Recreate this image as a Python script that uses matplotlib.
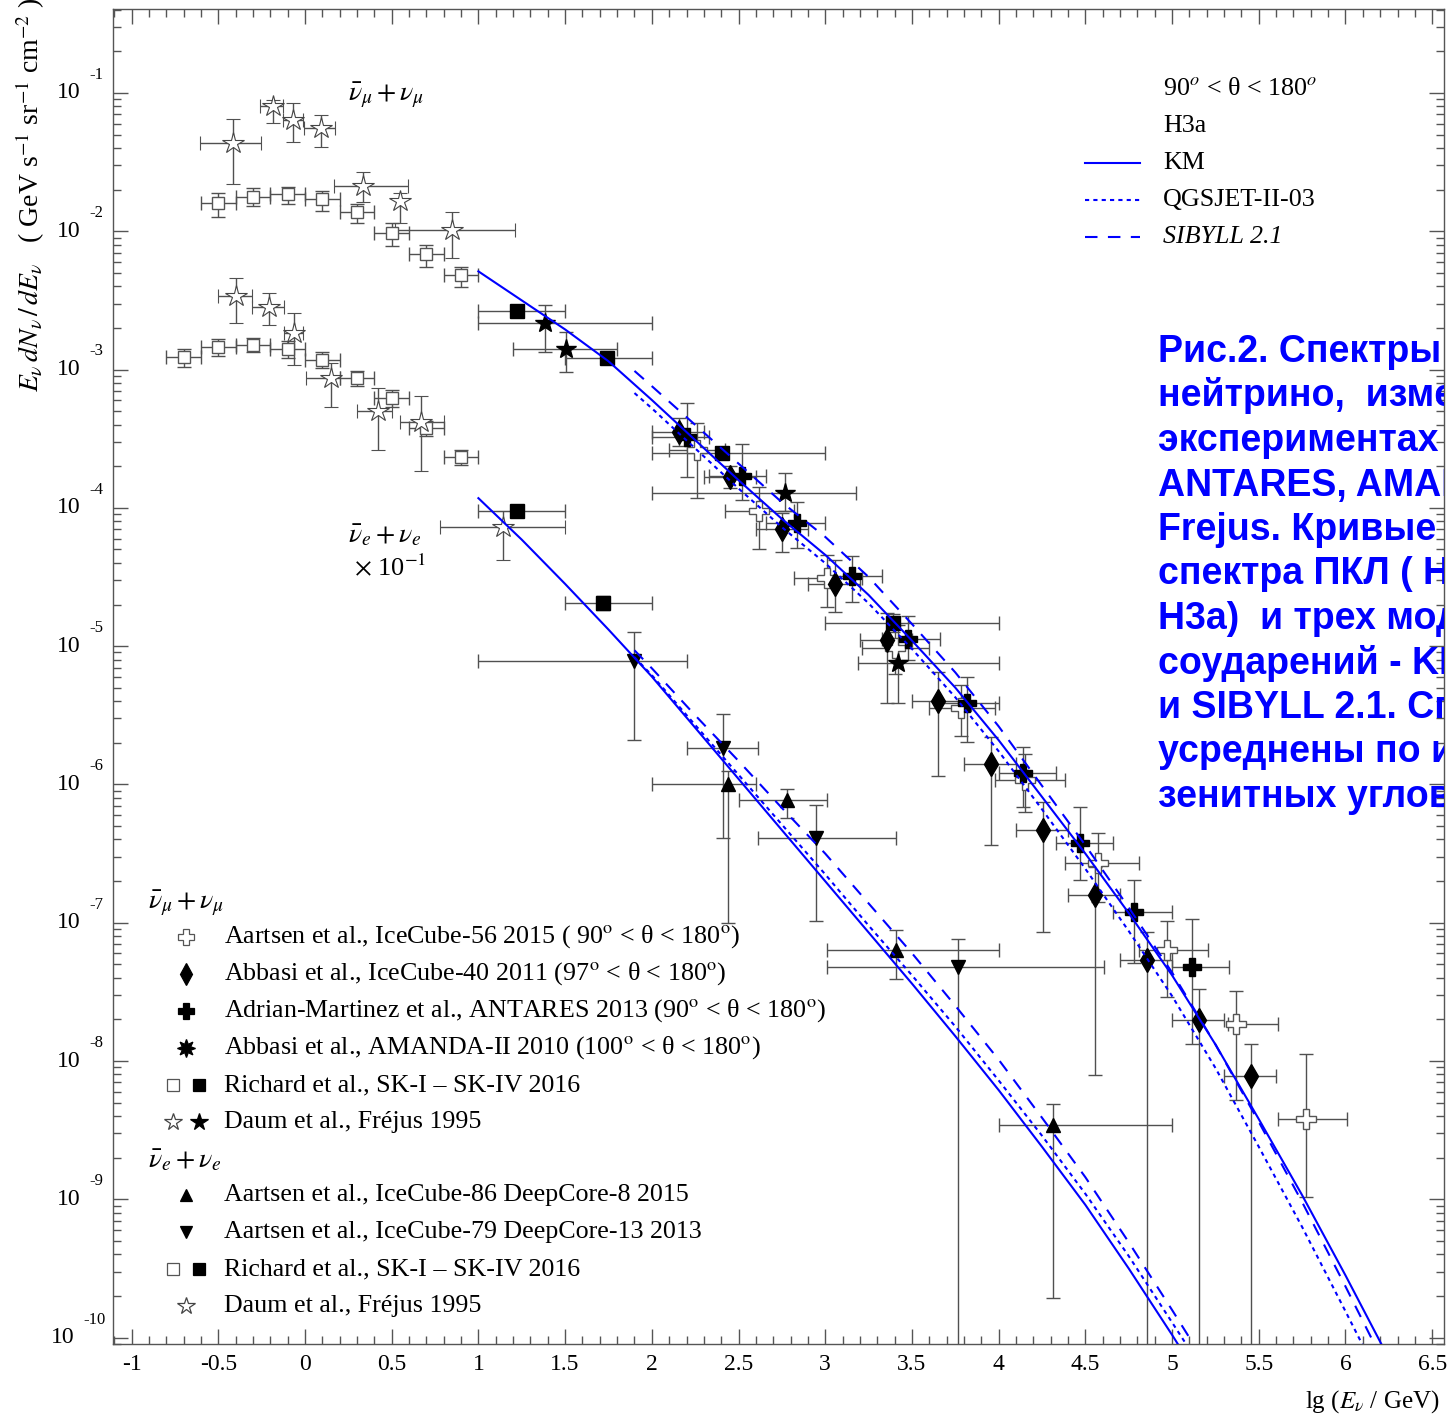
import matplotlib.pyplot as plt
import numpy as np
from matplotlib.ticker import MultipleLocator, LogLocator, NullFormatter, FixedLocator, FixedFormatter

plt.rcParams['font.family'] = 'Liberation Serif'
plt.rcParams['mathtext.fontset'] = 'stix'
plt.rcParams['axes.unicode_minus'] = False

# ---------------- data: x = lg(E/GeV), y = lg(flux) ----------------
# nu_mu + anti-nu_mu
frej_mu_open_x = [-0.415, -0.185, -0.069, 0.092, 0.336, 0.548, 0.849]
frej_mu_open_y = [-1.36, -1.094, -1.195, -1.255, -1.67, -1.78, -1.99]
frej_mu_open_xlo = [-0.606, -0.26, -0.127, -0.006, 0.167, 0.548, 0.52]
frej_mu_open_xhi = [-0.254, -0.127, -0.012, 0.173, 0.594, 0.548, 1.21]
frej_mu_open_ylo = [-1.66, -1.217, -1.354, -1.39, -1.79, -1.94, -2.19]
frej_mu_open_yhi = [-1.19, -1.05, -1.07, -1.16, -1.57, -1.72, -1.86]

sk_mu_open_x = [-0.5, -0.3, -0.1, 0.1, 0.3, 0.5, 0.7, 0.9]
sk_mu_open_y = [-1.795, -1.75, -1.73, -1.77, -1.86, -2.01, -2.165, -2.315]
sk_mu_open_xlo = [-0.6, -0.4, -0.2, 0.0, 0.2, 0.4, 0.6, 0.8]
sk_mu_open_xhi = [-0.4, -0.2, 0.0, 0.2, 0.4, 0.6, 0.8, 1.0]
sk_mu_open_ylo = [-1.90, -1.82, -1.80, -1.85, -1.94, -2.11, -2.26, -2.40]
sk_mu_open_yhi = [-1.72, -1.69, -1.68, -1.71, -1.80, -1.94, -2.10, -2.26]

sk_mu_fill_x = [1.22, 1.74, 2.405, 3.39]
sk_mu_fill_y = [-2.58, -2.92, -3.60, -4.83]
sk_mu_fill_xlo = [1.0, 1.5, 2.0, 3.0]
sk_mu_fill_xhi = [1.5, 2.0, 3.0, 4.0]
sk_mu_fill_ylo = [-2.62, -2.96, -3.65, -4.90]
sk_mu_fill_yhi = [-2.55, -2.88, -3.56, -4.77]

frej_mu_fill_x = [1.384, 1.505]
frej_mu_fill_y = [-2.663, -2.85]
frej_mu_fill_xlo = [1.0, 1.2]
frej_mu_fill_xhi = [2.0, 1.8]
frej_mu_fill_ylo = [-2.87, -3.02]
frej_mu_fill_yhi = [-2.53, -2.73]

ic40_x = [2.157, 2.45, 2.75, 3.057, 3.356, 3.65, 3.956, 4.256, 4.556, 4.856, 5.156, 5.455]
ic40_y = [-3.451, -3.78, -4.15, -4.55, -4.955, -5.40, -5.85, -6.33, -6.80, -7.27, -7.70, -8.11]
ic40_xlo = [2.0, 2.3, 2.6, 2.9, 3.2, 3.5, 3.8, 4.1, 4.4, 4.7, 5.0, 5.3]
ic40_xhi = [2.3, 2.6, 2.9, 3.2, 3.5, 3.8, 4.1, 4.4, 4.7, 5.0, 5.3, 5.6]
ic40_ylo = [-3.55, -3.86, -4.32, -4.75, -5.41, -5.94, -6.44, -7.07, -8.10, -11.0, -11.0, -11.0]
ic40_yhi = [-3.35, -3.70, -4.04, -4.38, -4.76, -5.19, -5.66, -6.13, -6.60, -7.07, -7.48, -7.88]

antares_x = [2.203, 2.52, 2.837, 3.155, 3.48, 3.82, 4.14, 4.47, 4.78, 5.115]
antares_y = [-3.487, -3.77, -4.11, -4.49, -4.95, -5.41, -5.92, -6.42, -6.92, -7.32]
antares_xlo = [2.0, 2.33, 2.66, 3.0, 3.33, 3.66, 4.0, 4.33, 4.66, 5.0]
antares_xhi = [2.33, 2.66, 3.0, 3.33, 3.66, 4.0, 4.33, 4.66, 5.0, 5.33]
antares_ylo = [-3.78, -3.94, -4.29, -4.68, -5.10, -5.69, -6.16, -6.69, -7.29, -7.88]
antares_yhi = [-3.24, -3.54, -3.96, -4.35, -4.78, -5.22, -5.73, -6.16, -6.69, -6.97]

amanda_x = [2.768, 3.42]
amanda_y = [-3.89, -5.12]
amanda_xlo = [2.0, 3.19]
amanda_xhi = [3.18, 4.0]
amanda_ylo = [-4.02, -5.41]
amanda_yhi = [-3.75, -4.85]

ic56_x = [2.26, 2.62, 3.01, 3.40, 3.78, 4.15, 4.57, 4.97, 5.37, 5.77]
ic56_y = [-3.58, -4.02, -4.51, -5.01, -5.45, -5.97, -6.57, -7.20, -7.73, -8.42]
ic56_xlo = [2.1, 2.42, 2.82, 3.21, 3.6, 3.98, 4.38, 4.81, 5.32, 5.61]
ic56_xhi = [2.42, 2.82, 3.21, 3.6, 3.98, 4.38, 4.81, 5.21, 5.61, 6.01]
ic56_ylo = [-3.93, -4.30, -4.72, -5.20, -5.65, -6.20, -6.85, -7.54, -8.28, -8.98]
ic56_yhi = [-3.39, -3.85, -4.34, -4.85, -5.28, -5.78, -6.35, -6.99, -7.49, -7.95]

# nu_e + anti-nu_e (x 0.1)
frej_e_x = [-0.40, -0.207, -0.063, 0.15, 0.42, 0.668, 1.14]
frej_e_y = [-2.468, -2.55, -2.735, -3.06, -3.30, -3.38, -4.14]
frej_e_xlo = [-0.5, -0.306, -0.12, 0.006, 0.3, 0.55, 0.78]
frej_e_xhi = [-0.306, -0.12, -0.01, 0.2, 0.5, 0.8, 1.5]
frej_e_ylo = [-2.66, -2.68, -2.97, -3.27, -3.58, -3.73, -4.38]
frej_e_yhi = [-2.34, -2.45, -2.59, -2.95, -3.13, -3.19, -4.02]

sk_e_open_x = [-0.7, -0.5, -0.3, -0.1, 0.1, 0.3, 0.5, 0.7, 0.9]
sk_e_open_y = [-2.91, -2.84, -2.82, -2.85, -2.93, -3.06, -3.205, -3.42, -3.63]
sk_e_open_xlo = [-0.8, -0.6, -0.4, -0.2, 0.0, 0.2, 0.4, 0.6, 0.8]
sk_e_open_xhi = [-0.6, -0.4, -0.2, 0.0, 0.2, 0.4, 0.6, 0.8, 1.0]
sk_e_open_ylo = [-2.98, -2.90, -2.87, -2.92, -2.99, -3.12, -3.27, -3.48, -3.69]
sk_e_open_yhi = [-2.85, -2.78, -2.77, -2.79, -2.87, -3.01, -3.15, -3.37, -3.58]

sk_e_fill_x = [1.22, 1.72]
sk_e_fill_y = [-4.02, -4.69]
sk_e_fill_xlo = [1.0, 1.5]
sk_e_fill_xhi = [1.5, 2.0]
sk_e_fill_ylo = [-4.05, -4.74]
sk_e_fill_yhi = [-3.99, -4.64]

dc79_x = [1.90, 2.41, 2.947, 3.766]
dc79_y = [-5.11, -5.74, -6.39, -7.32]
dc79_xlo = [1.0, 2.2, 2.61, 3.01]
dc79_xhi = [2.2, 2.61, 3.41, 4.61]
dc79_ylo = [-5.68, -6.39, -6.99, -11.0]
dc79_yhi = [-4.90, -5.49, -6.15, -7.12]

dc86_x = [2.44, 2.78, 3.41, 4.314]
dc86_y = [-6.0, -6.11, -7.2, -8.46]
dc86_xlo = [2.0, 2.5, 3.01, 4.0]
dc86_xhi = [2.6, 3.01, 4.0, 5.0]
dc86_ylo = [-7.0, -6.24, -7.41, -9.71]
dc86_yhi = [-5.9, -6.03, -7.05, -8.31]

# model curves (H3a primary spectrum), read every 0.25 in lg E
km_mu_x = [1.0, 1.25, 1.5, 1.75, 2.0, 2.25, 2.5, 2.75, 3.0, 3.25, 3.5, 3.75, 4.0, 4.25,
           4.5, 4.75, 5.0, 5.25, 5.5, 5.75, 6.0, 6.25]
km_mu_y = [-2.29, -2.50, -2.71, -2.94, -3.22, -3.51, -3.80, -4.08, -4.34, -4.63, -4.96, -5.30,
           -5.68, -6.09, -6.50, -6.93, -7.38, -7.88, -8.42, -8.97, -9.55, -10.15]
qgs_mu_x = [1.9, 2.0, 2.25, 2.5, 2.75, 3.0, 3.25, 3.5, 3.75, 4.0, 4.25, 4.5, 4.75, 5.0,
            5.25, 5.5, 5.75, 6.0, 6.15]
qgs_mu_y = [-3.17, -3.28, -3.57, -3.86, -4.14, -4.40, -4.69, -5.02, -5.37, -5.76, -6.18, -6.61,
            -7.06, -7.53, -8.05, -8.62, -9.20, -9.81, -10.18]
sib_mu_x = [1.9, 2.0, 2.25, 2.5, 2.75, 3.0, 3.25, 3.5, 3.75, 4.0, 4.25, 4.5, 4.75, 5.0,
            5.25, 5.5, 5.75, 6.0, 6.2]
sib_mu_y = [-3.01, -3.12, -3.40, -3.68, -3.96, -4.21, -4.50, -4.84, -5.19, -5.58, -6.01, -6.44,
            -6.89, -7.36, -7.88, -8.44, -9.02, -9.63, -10.13]

km_e_x = [1.0, 1.25, 1.5, 1.75, 2.0, 2.25, 2.5, 2.75, 3.0, 3.25, 3.5, 3.75, 4.0, 4.25,
          4.5, 4.75, 5.0, 5.1]
km_e_y = [-3.93, -4.23, -4.55, -4.88, -5.22, -5.59, -5.96, -6.33, -6.70, -7.07, -7.44, -7.82,
          -8.21, -8.62, -9.04, -9.50, -9.98, -10.18]
qgs_e_x = [1.9, 2.0, 2.25, 2.5, 2.75, 3.0, 3.25, 3.5, 3.75, 4.0, 4.25, 4.5, 4.75, 5.0, 5.15]
qgs_e_y = [-5.08, -5.21, -5.57, -5.93, -6.29, -6.65, -7.02, -7.38, -7.75, -8.14, -8.54, -8.96,
           -9.41, -9.89, -10.18]
sib_e_x = [1.9, 2.0, 2.25, 2.5, 2.75, 3.0, 3.25, 3.5, 3.75, 4.0, 4.25, 4.5, 4.75, 5.0, 5.2]
sib_e_y = [-5.03, -5.16, -5.50, -5.83, -6.17, -6.50, -6.86, -7.22, -7.60, -7.99, -8.41, -8.84,
           -9.31, -9.80, -10.2]

x_ticks = [-1, -0.5, 0, 0.5, 1, 1.5, 2, 2.5, 3, 3.5, 4, 4.5, 5, 5.5, 6, 6.5]
x_tick_labels = ['-1', '-0.5', '0', '0.5', '1', '1.5', '2', '2.5', '3', '3.5',
                 '4', '4.5', '5', '5.5', '6', '6.5']
y_decades = [-1, -2, -3, -4, -5, -6, -7, -8, -9, -10]

caption = ['Рис.2. Спектры атмосферных',
           'нейтрино,  измеренные в',
           'экспериментах IceCube,',
           'ANTARES, AMANDA, SK и',
           'Frejus. Кривые - расчет для',
           'спектра ПКЛ ( Hillas-Gaisser',
           'H3a)  и трех моделей адронных',
           'соударений - KM, QGSJET-II-03',
           'и SIBYLL 2.1. Спектры',
           'усреднены по интервалу',
           'зенитных углов 90°-180°.']

# ---------------- figure ----------------
W, H = 1450, 1418
fig = plt.figure(figsize=(W / 100, H / 100), dpi=100)
L, R, T, B = 113, 1444, 9, 1344
ax = fig.add_axes([L / W, 1 - B / H, (R - L) / W, (B - T) / H])
ax.set_yscale('log')
ax.set_xlim(-1.107, 6.568)
ax.set_ylim(10 ** -10.046, 10 ** -0.393)


def afrac(px, py):
    # reference pixel -> axes fraction
    return (px - L) / (R - L), (B - py) / (B - T)


ECOL = '#505050'


def points(x, y, xlo, xhi, ylo, yhi, marker, ms, face='black', edge='black', mew=1.0, z=3):
    x = np.array(x)
    yv = 10 ** np.array(y)
    xerr = [x - np.array(xlo), np.array(xhi) - x]
    yerr = [yv - 10 ** np.array(ylo), 10 ** np.array(yhi) - yv]
    ax.errorbar(x, yv, xerr=xerr, yerr=yerr, fmt=marker, ms=ms, mfc=face, mec=edge,
                mew=mew, ecolor=ECOL, elinewidth=1.0, capsize=5, capthick=1.0, zorder=z)


# nu_mu
points(sk_mu_open_x, sk_mu_open_y, sk_mu_open_xlo, sk_mu_open_xhi, sk_mu_open_ylo, sk_mu_open_yhi,
       's', 9, face='white', edge='#555555')
points(frej_mu_open_x, frej_mu_open_y, frej_mu_open_xlo, frej_mu_open_xhi, frej_mu_open_ylo,
       frej_mu_open_yhi, '*', 16, face='white', edge='#444444', mew=0.8)
points(sk_mu_fill_x, sk_mu_fill_y, sk_mu_fill_xlo, sk_mu_fill_xhi, sk_mu_fill_ylo, sk_mu_fill_yhi, 's', 10)
points(frej_mu_fill_x, frej_mu_fill_y, frej_mu_fill_xlo, frej_mu_fill_xhi, frej_mu_fill_ylo,
       frej_mu_fill_yhi, '*', 15)
points(ic56_x, ic56_y, ic56_xlo, ic56_xhi, ic56_ylo, ic56_yhi, 'P', 14, face='white', edge='#555555')
points(ic40_x, ic40_y, ic40_xlo, ic40_xhi, ic40_ylo, ic40_yhi, 'd', 12)
points(antares_x, antares_y, antares_xlo, antares_xhi, antares_ylo, antares_yhi, 'P', 13)
points(amanda_x, amanda_y, amanda_xlo, amanda_xhi, amanda_ylo, amanda_yhi, '*', 15)

# nu_e
points(sk_e_open_x, sk_e_open_y, sk_e_open_xlo, sk_e_open_xhi, sk_e_open_ylo, sk_e_open_yhi,
       's', 9, face='white', edge='#555555')
points(frej_e_x, frej_e_y, frej_e_xlo, frej_e_xhi, frej_e_ylo, frej_e_yhi, '*', 16,
       face='white', edge='#444444', mew=0.8)
points(sk_e_fill_x, sk_e_fill_y, sk_e_fill_xlo, sk_e_fill_xhi, sk_e_fill_ylo, sk_e_fill_yhi, 's', 10)
points(dc79_x, dc79_y, dc79_xlo, dc79_xhi, dc79_ylo, dc79_yhi, 'v', 10)
points(dc86_x, dc86_y, dc86_xlo, dc86_xhi, dc86_ylo, dc86_yhi, '^', 10)

# model curves
BLUE = '#0000ff'
DOT = (0, (2, 2))
DASH = (0, (6, 5))
for xs, ys, ls in [(km_mu_x, km_mu_y, '-'), (qgs_mu_x, qgs_mu_y, DOT), (sib_mu_x, sib_mu_y, DASH),
                   (km_e_x, km_e_y, '-'), (qgs_e_x, qgs_e_y, DOT), (sib_e_x, sib_e_y, DASH)]:
    ax.plot(xs, 10 ** np.array(ys), color=BLUE, lw=1.5, ls=ls, zorder=4)

# ---------------- axes styling ----------------
SPC = '#555555'
for s in ax.spines.values():
    s.set_color(SPC)
    s.set_linewidth(1.0)
ax.xaxis.set_major_locator(FixedLocator(x_ticks))
ax.xaxis.set_major_formatter(FixedFormatter(x_tick_labels))
ax.xaxis.set_minor_locator(MultipleLocator(0.1))
ax.yaxis.set_major_locator(LogLocator(base=10, numticks=20))
ax.yaxis.set_minor_locator(LogLocator(base=10, subs=np.arange(2, 10), numticks=20))
ax.yaxis.set_major_formatter(NullFormatter())
ax.yaxis.set_minor_formatter(NullFormatter())
ax.tick_params(which='both', direction='in', top=True, right=True, color=SPC, width=1.0)
ax.tick_params(which='major', length=11, labelsize=17, pad=7)
ax.tick_params(which='minor', length=6)

for e in y_decades:
    xr = (75 - L) if e == -10 else (81 - L)
    ax.annotate('10', xy=(xr / (R - L), 10 ** e), xycoords=('axes fraction', 'data'),
                ha='right', va='center', fontsize=17, annotation_clip=False)
    ax.annotate(str(e), xy=((xr + 8) / (R - L), 10 ** e), xycoords=('axes fraction', 'data'),
                xytext=(0, 13), textcoords='offset points', ha='left', va='center',
                fontsize=12, annotation_clip=False)

fig.text(30 / W, 1 - 195 / H,
         r'$E_\nu\, dN_\nu\, /\, dE_\nu$   ( GeV s$^{-1}$ sr$^{-1}$ cm$^{-2}$ )',
         rotation=90, ha='center', va='center', fontsize=20)
fig.text(1372 / W, 1 - 1402 / H, r'lg ($E_\nu$ / GeV)', ha='center', va='center', fontsize=18)

# in-plot labels
ax.text(*afrac(386, 95), r'$\bar{\nu}_\mu + \nu_\mu$', transform=ax.transAxes,
        ha='center', va='center', fontsize=20)
ax.text(*afrac(385, 535), r'$\bar{\nu}_e + \nu_e$', transform=ax.transAxes,
        ha='center', va='center', fontsize=20)
ax.text(*afrac(390, 567), r'$\times$ 10$^{-1}$', transform=ax.transAxes,
        ha='center', va='center', fontsize=19)

# model legend (top right)
LFS = 18.7
model_rows = [(163, '-', 'KM', 'normal'), (200, DOT, 'QGSJET-II-03', 'normal'),
              (237, DASH, 'SIBYLL 2.1', 'italic')]
ax.text(*afrac(1163, 89), r'90$^{o}$ < θ < 180$^{o}$', transform=ax.transAxes,
        ha='left', va='center', fontsize=LFS)
ax.text(*afrac(1163, 126), 'H3a', transform=ax.transAxes, ha='left', va='center', fontsize=LFS)
for py, ls, lab, st in model_rows:
    x0, y0 = afrac(1085, py)
    x1, _ = afrac(1140, py)
    ax.plot([x0, x1], [y0, y0], transform=ax.transAxes, color=BLUE, lw=1.5, ls=ls, clip_on=False)
    ax.text(*afrac(1163, py), lab, transform=ax.transAxes, ha='left', va='center',
            fontsize=LFS, style=st)

# data legend (bottom left)
ax.text(*afrac(148, 903), r'$\bar{\nu}_\mu + \nu_\mu$', transform=ax.transAxes,
        ha='left', va='center', fontsize=20)
ax.text(*afrac(148, 1160), r'$\bar{\nu}_e + \nu_e$', transform=ax.transAxes,
        ha='left', va='center', fontsize=20)
DEG = r'$^{\rm o}$'
legend_rows = [
    (937, [(186, 'P', 12, 'white', '#555555')],
     'Aartsen et al., IceCube-56 2015 ( 90' + DEG + ' < θ < 180' + DEG + ')'),
    (974, [(186, 'd', 11, 'black', 'black')],
     'Abbasi et al., IceCube-40 2011 (97' + DEG + ' < θ < 180' + DEG + ')'),
    (1011, [(186, 'P', 12, 'black', 'black')],
     'Adrian-Martinez et al., ANTARES 2013 (90' + DEG + ' < θ < 180' + DEG + ')'),
    (1048, [(186, (8, 1, 0), 13, 'black', 'black')],
     'Abbasi et al., AMANDA-II 2010 (100' + DEG + ' < θ < 180' + DEG + ')'),
    (1085, [(173, 's', 9, 'white', '#555555'), (199, 's', 9, 'black', 'black')],
     'Richard et al., SK-I – SK-IV 2016'),
    (1122, [(173, '*', 13, 'white', '#444444'), (199, '*', 13, 'black', 'black')],
     'Daum et al., Fréjus 1995'),
    (1195, [(186, '^', 9, 'black', 'black')], 'Aartsen et al., IceCube-86 DeepCore-8 2015'),
    (1232, [(186, 'v', 9, 'black', 'black')], 'Aartsen et al., IceCube-79 DeepCore-13 2013'),
    (1269, [(173, 's', 9, 'white', '#555555'), (199, 's', 9, 'black', 'black')],
     'Richard et al., SK-I – SK-IV 2016'),
    (1306, [(186, '*', 13, 'white', '#444444')], 'Daum et al., Fréjus 1995'),
]
for py, marks, lab in legend_rows:
    for px, mk, ms, fc, ec in marks:
        ax.plot(*afrac(px, py), marker=mk, ms=ms, mfc=fc, mec=ec, mew=0.9, ls='none',
                transform=ax.transAxes, clip_on=False)
    ax.text(*afrac(224, py), lab, transform=ax.transAxes, ha='left', va='center', fontsize=LFS)

# blue caption, clipped by the right frame as in the original figure
for i, line in enumerate(caption):
    ax.text(*afrac(1158, 362 + 44.5 * i), line, transform=ax.transAxes, ha='left',
            va='baseline', fontsize=27, fontweight='bold', color=BLUE,
            family='Liberation Sans', clip_on=True, zorder=6)

fig.savefig('out.png', dpi=100, facecolor='white')
